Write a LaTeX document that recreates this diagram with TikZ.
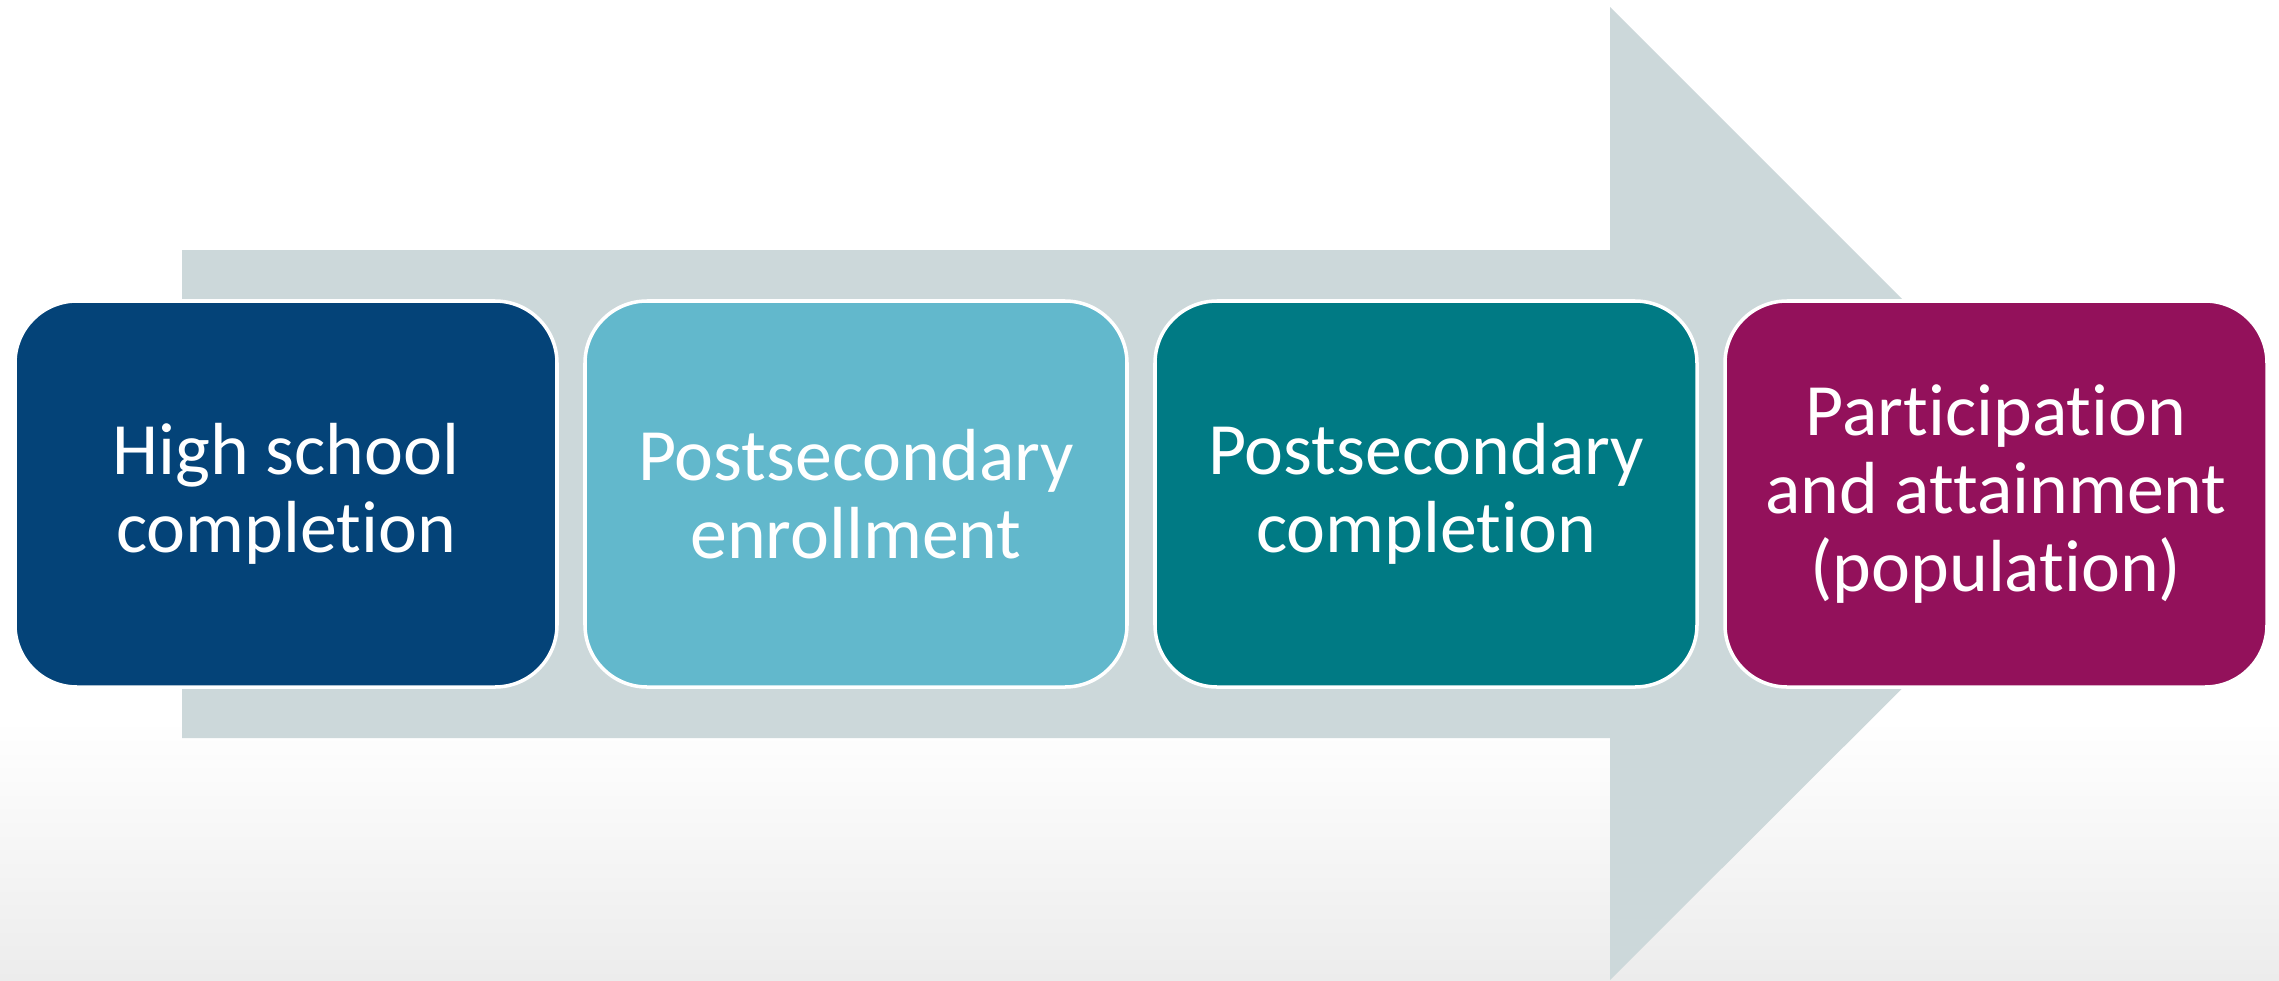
\documentclass[tikz,border=0pt]{standalone}
\usepackage{fontspec}
\setmainfont{Carlito}[Ligatures=NoCommon]
\usetikzlibrary{positioning}

\definecolor{hsblue}{HTML}{044378}
\definecolor{enrollblue}{HTML}{62B8CC}
\definecolor{complteal}{HTML}{007A84}
\definecolor{popmagenta}{HTML}{93115B}
\definecolor{arrowgray}{HTML}{CCD8DA}
\definecolor{bgfade}{HTML}{ECECEC}

\begin{document}
\begin{tikzpicture}[
    stage/.style={rectangle, rounded corners=0.62cm, draw=white, line width=1pt,
      text=white, align=center, inner sep=0pt, outer sep=0pt,
      minimum width=5.42cm, minimum height=3.86cm,
      font=\fontsize{21}{22.3}\selectfont}]
  \useasboundingbox (0,0) rectangle (22.79,9.80);
  % background fade at the bottom
  \shade[top color=white, bottom color=bgfade] (0,0) rectangle (22.79,2.6);
  % big arrow behind the stages
  \fill[arrowgray] (1.82,2.42) -- (16.10,2.42) -- (16.10,0) -- (20.97,4.86)
    -- (16.10,9.73) -- (16.10,7.30) -- (1.82,7.30) -- cycle;
  % stages
  \node[stage, fill=hsblue] (hs) at (2.86,4.86) {High school\\completion};
  \node[stage, fill=enrollblue, right=0.28cm of hs] (enroll) {Postsecondary\\enrollment};
  \node[stage, fill=complteal, right=0.28cm of enroll] (compl) {Postsecondary\\completion};
  \node[stage, fill=popmagenta, right=0.28cm of compl] (pop) {Participation\\and attainment\\(population)};
\end{tikzpicture}
\end{document}
